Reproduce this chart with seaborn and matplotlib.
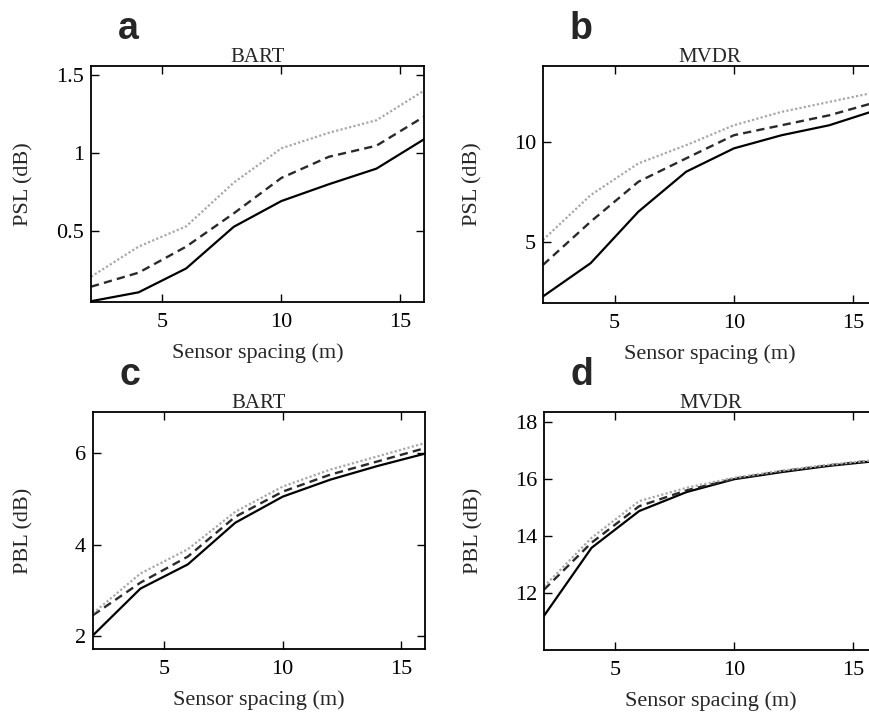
import matplotlib
matplotlib.use("Agg")
import matplotlib.pyplot as plt
import seaborn as sns
import pandas as pd

spacing = [2, 4, 6, 8, 10, 12, 14, 16]

psl_bart_solid = [0.05, 0.107, 0.26, 0.527, 0.692, 0.80, 0.90, 1.088]
psl_bart_dash = [0.143, 0.233, 0.40, 0.613, 0.84, 0.976, 1.047, 1.233]
psl_bart_dot = [0.207, 0.40, 0.53, 0.81, 1.03, 1.13, 1.21, 1.40]

psl_mvdr_solid = [2.25, 3.92, 6.5, 8.5, 9.67, 10.33, 10.83, 11.6]
psl_mvdr_dash = [3.83, 6.0, 8.0, 9.17, 10.33, 10.83, 11.33, 12.0]
psl_mvdr_dot = [5.08, 7.33, 8.92, 9.83, 10.83, 11.5, 12.0, 12.5]

pbl_bart_solid = [2.02, 3.04, 3.57, 4.48, 5.05, 5.42, 5.72, 5.99]
pbl_bart_dash = [2.46, 3.17, 3.74, 4.61, 5.16, 5.53, 5.82, 6.11]
pbl_bart_dot = [2.50, 3.37, 3.90, 4.72, 5.27, 5.64, 5.93, 6.22]

pbl_mvdr_solid = [11.2, 13.59, 14.88, 15.55, 16.0, 16.25, 16.47, 16.64]
pbl_mvdr_dash = [12.12, 13.77, 15.05, 15.61, 16.02, 16.28, 16.49, 16.67]
pbl_mvdr_dot = [12.23, 13.94, 15.23, 15.70, 16.05, 16.30, 16.51, 16.68]

x_ticks = [5, 10, 15]
panels = [
    dict(letter="a", title="BART", ylabel="PSL (dB)",
         series=[psl_bart_solid, psl_bart_dash, psl_bart_dot],
         ylim=(0.045, 1.558), yticks=[0.5, 1, 1.5], yticklabels=["0.5", "1", "1.5"],
         box=(91, 66, 424, 302), ylab_right=33),
    dict(letter="b", title="MVDR", ylabel="PSL (dB)",
         series=[psl_mvdr_solid, psl_mvdr_dash, psl_mvdr_dot],
         ylim=(1.92, 13.8), yticks=[5, 10], yticklabels=["5", "10"],
         box=(543, 66, 877, 303), ylab_right=482),
    dict(letter="c", title="BART", ylabel="PBL (dB)",
         series=[pbl_bart_solid, pbl_bart_dash, pbl_bart_dot],
         ylim=(1.72, 6.9), yticks=[2, 4, 6], yticklabels=["2", "4", "6"],
         box=(93, 412, 425, 649), ylab_right=33),
    dict(letter="d", title="MVDR", ylabel="PBL (dB)",
         series=[pbl_mvdr_solid, pbl_mvdr_dash, pbl_mvdr_dot],
         ylim=(10.0, 18.36), yticks=[12, 14, 16, 18], yticklabels=["12", "14", "16", "18"],
         box=(544, 412, 877, 650), ylab_right=483),
]

sns.set_theme(style="ticks")
plt.rcParams["font.family"] = ["Liberation Serif", "DejaVu Serif"]

W, H = 870, 715
fig = plt.figure(figsize=(W / 100, H / 100), dpi=100)

styles = [dict(color="black", linestyle="-", linewidth=1.6),
          dict(color="#2a2a2a", linestyle=(0, (3.5, 2.2)), linewidth=1.7),
          dict(color="#a8a8a8", linestyle=(0, (1, 1.0)), linewidth=1.6)]

for p in panels:
    l, t, r, b = p["box"]
    ax = fig.add_axes([l / W, 1 - b / H, (r - l) / W, (b - t) / H])
    for vals, st in zip(p["series"], styles):
        df = pd.DataFrame({"x": spacing, "y": vals})
        sns.lineplot(data=df, x="x", y="y", ax=ax, **st)
    ax.set_xlim(2, 16)
    ax.set_ylim(*p["ylim"])
    ax.set_xticks(x_ticks)
    ax.set_xticklabels([str(v) for v in x_ticks])
    ax.set_yticks(p["yticks"])
    ax.set_yticklabels(p["yticklabels"])
    ax.tick_params(direction="in", top=True, right=True, length=6, width=1,
                   labelsize=16, colors="black")
    ax.tick_params(axis="x", pad=8)
    ax.tick_params(axis="y", pad=5)
    for s in ax.spines.values():
        s.set_linewidth(1.3)
        s.set_color("black")
    ax.set_xlabel("Sensor spacing (m)", fontsize=16, labelpad=8)
    ax.set_ylabel(p["ylabel"], fontsize=16)
    ax.yaxis.set_label_coords((p["ylab_right"] - l) / (r - l), 0.5)
    ax.set_title(p["title"], fontsize=15, pad=3)
    ax.text(0.08, 1.08, p["letter"], transform=ax.transAxes, fontsize=27,
            fontweight="bold", family=["Liberation Sans", "DejaVu Sans"],
            ha="left", va="bottom")

fig.savefig("out.png", dpi=100)
